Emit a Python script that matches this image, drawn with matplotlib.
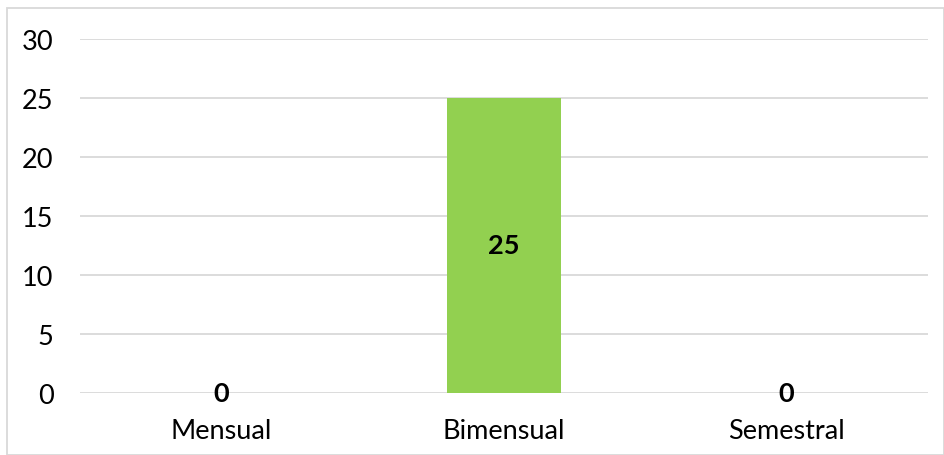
import matplotlib.pyplot as plt
from matplotlib.patches import Rectangle

categories = ["Mensual", "Bimensual", "Semestral"]
values = [0, 25, 0]
yticks = [0, 5, 10, 15, 20, 25, 30]

plt.rcParams['font.family'] = ['Lato', 'DejaVu Sans']

fig = plt.figure(figsize=(9.45, 4.56), dpi=100)
W, H = 945, 456
ax = fig.add_axes([80 / W, 1 - 394 / H, 848 / W, 354 / H])

x = range(len(categories))
bars = ax.bar(x, values, width=0.4, color="#92D050", zorder=3)
ax.set_xlim(-0.5, 2.5)
ax.set_ylim(0, 30)
ax.set_yticks(yticks)
ax.set_yticklabels([str(v) for v in yticks], fontsize=19.5)
ax.set_xticks(list(x))
ax.set_xticklabels(categories, fontsize=19.5)
ax.tick_params(axis='y', length=0, pad=19)
ax.tick_params(axis='x', length=0, pad=18)
ax.grid(axis='y', color="#D9D9D9", linewidth=1.3, zorder=0)
for s in ax.spines.values():
    s.set_visible(False)

for i, v in enumerate(values):
    y = v / 2 if v > 0 else 0
    ax.text(i, y, str(v), ha='center', va='center', fontsize=19.5,
            fontweight='bold', color='black', zorder=4)

fig.patches.append(Rectangle((7 / W, 0), (W - 8) / W, 1 - 9 / H,
                             transform=fig.transFigure, fill=False,
                             edgecolor="#D9D9D9", linewidth=1.3))

fig.savefig("out.png", dpi=100)
